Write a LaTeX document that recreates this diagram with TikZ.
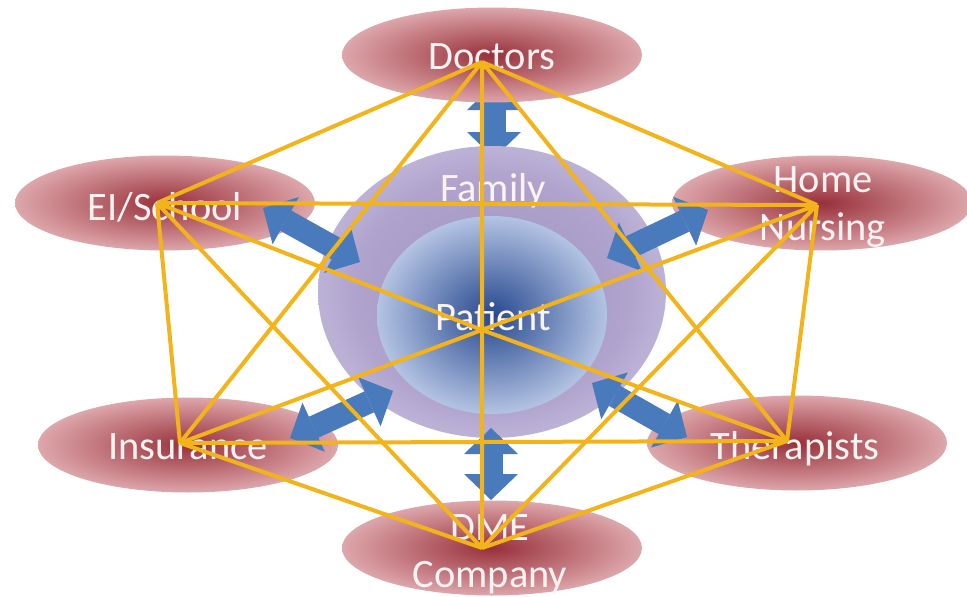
\documentclass[tikz,border=0pt]{standalone}
\usepackage{fontspec}
\setmainfont{Carlito}
\usetikzlibrary{shapes.geometric, arrows.meta}
\definecolor{partnerDark}{RGB}{152, 48, 58}
\definecolor{partnerMid}{RGB}{208, 142, 148}
\definecolor{partnerLight}{RGB}{232, 192, 194}
\definecolor{partnerRim}{RGB}{248, 232, 232}
\definecolor{familyDark}{RGB}{156, 144, 192}
\definecolor{familyMid}{RGB}{176, 164, 206}
\definecolor{familyLight}{RGB}{212, 204, 228}
\definecolor{patientDark}{RGB}{38, 72, 142}
\definecolor{patientLight}{RGB}{208, 220, 244}
\definecolor{linkBlue}{RGB}{72, 122, 188}
\definecolor{webGold}{RGB}{242, 180, 26}
\definecolor{labelWhite}{RGB}{252, 242, 242}
\pgfdeclareradialshading{partnerShade}{\pgfpointorigin}{color(0bp)=(partnerDark); color(7bp)=(partnerDark!65!partnerMid); color(20bp)=(partnerMid); color(30bp)=(partnerLight); color(35bp)=(partnerRim); color(50bp)=(partnerRim)}
\pgfdeclareradialshading{familyShade}{\pgfpointorigin}{color(0bp)=(familyDark); color(20bp)=(familyMid); color(34bp)=(familyLight); color(50bp)=(familyLight)}
\pgfdeclareradialshading{patientShade}{\pgfpointorigin}{color(0bp)=(patientDark); color(30bp)=(patientLight); color(50bp)=(patientLight)}
\tikzset{
    % Ellipse Styles
    partner/.style={
        ellipse,
        minimum width=6cm,
        minimum height=1.9cm,
        inner sep=0pt,
        shade, shading=partnerShade
    },
    familyRing/.style={ellipse, minimum width=6.96cm, minimum height=5.84cm, inner sep=0pt, shade, shading=familyShade},
    patientCore/.style={ellipse, minimum width=4.6cm, minimum height=3.96cm, inner sep=0pt, shade, shading=patientShade},
    % Text Style
    caption/.style={text=labelWhite, font=\fontsize{23}{27}\selectfont, align=center, inner sep=0pt},
    % Arrow & Line Styles
    link/.style={
        line width=0.46cm, draw=linkBlue,
        {Triangle[length=0.52cm, width=1.08cm, line width=0pt]}-{Triangle[length=0.52cm, width=1.08cm, line width=0pt]}
    },
    web/.style={draw=webGold, line width=0.08cm, line join=round}
}
\begin{document}
\begin{tikzpicture}[x=0.02cm, y=-0.02cm]
    \useasboundingbox (0,0) rectangle (967,596);

    % --- Top Link (sits under the Doctors ellipse) ---
    \coordinate (doctorsIn) at (494,84);
    \coordinate (doctorsOut) at (494,158);
    \draw [link] (doctorsIn) -- (doctorsOut);

    % --- OUTER PARTNERS ---
    \node (doctors) [partner] at (492,55) {};
    \node (doctorsLabel) [caption] at (492,57) {Doctors};

    \node (eiSchool) [partner] at (165,203) {};
    \node (eiSchoolLabel) [caption] at (165,207) {EI/School};

    \node (homeNursing) [partner] at (822,203) {};
    \node (homeNursingLabel) [caption] at (823,207) {Home\\Nursing};

    \node (insurance) [partner] at (188,445) {};
    \node (insuranceLabel) [caption] at (188,447) {Insurance};

    \node (therapists) [partner] at (797,443) {};
    \node (therapistsLabel) [caption] at (795,449) {Therapists};

    \node (dme) [partner] at (492,548) {};
    \node (dmeLabel) [caption] at (490,554) {DME\\Company};

    % --- CENTRE (Family around Patient) ---
    \node (family) [familyRing] at (492,292) {};
    \node (familyLabel) [caption] at (493,191) {Family};

    \node (patient) [patientCore] at (492,315) {};
    \node (patientLabel) [caption] at (493,317) {Patient};

    % --- Blue Links (partner <-> family) ---
    \coordinate (dmeIn) at (491,428);      \coordinate (dmeOut) at (491,500);
    \coordinate (eiIn) at (263,208);       \coordinate (eiOut) at (360,262);
    \coordinate (insIn) at (290,438);      \coordinate (insOut) at (393,391);
    \coordinate (nurseIn) at (607,258);    \coordinate (nurseOut) at (708,210);
    \coordinate (therIn) at (592,383);     \coordinate (therOut) at (687,437);

    \draw [link] (dmeIn) -- (dmeOut);
    \draw [link] (eiIn) -- (eiOut);
    \draw [link] (insIn) -- (insOut);
    \draw [link] (nurseIn) -- (nurseOut);
    \draw [link] (therIn) -- (therOut);

    % --- Gold Web (everyone to everyone) ---
    \coordinate (docHub) at (482,62);
    \coordinate (eiHub) at (157,203);
    \coordinate (nurseHub) at (817,205);
    \coordinate (insHub) at (180,443);
    \coordinate (therHub) at (787,441);
    \coordinate (dmeHub) at (482,548);
    \coordinate (patHub) at (482,330);

    \draw [web] (docHub) -- (eiHub) (docHub) -- (nurseHub) (docHub) -- (insHub)
        (docHub) -- (therHub) (docHub) -- (dmeHub);
    \draw [web] (eiHub) -- (nurseHub) (eiHub) -- (insHub) (eiHub) -- (dmeHub)
        (eiHub) -- (patHub) -- (therHub);
    \draw [web] (nurseHub) -- (therHub) (nurseHub) -- (dmeHub)
        (nurseHub) -- (patHub) -- (insHub);
    \draw [web] (insHub) -- (therHub) (insHub) -- (dmeHub);
    \draw [web] (therHub) -- (dmeHub);

\end{tikzpicture}
\end{document}
